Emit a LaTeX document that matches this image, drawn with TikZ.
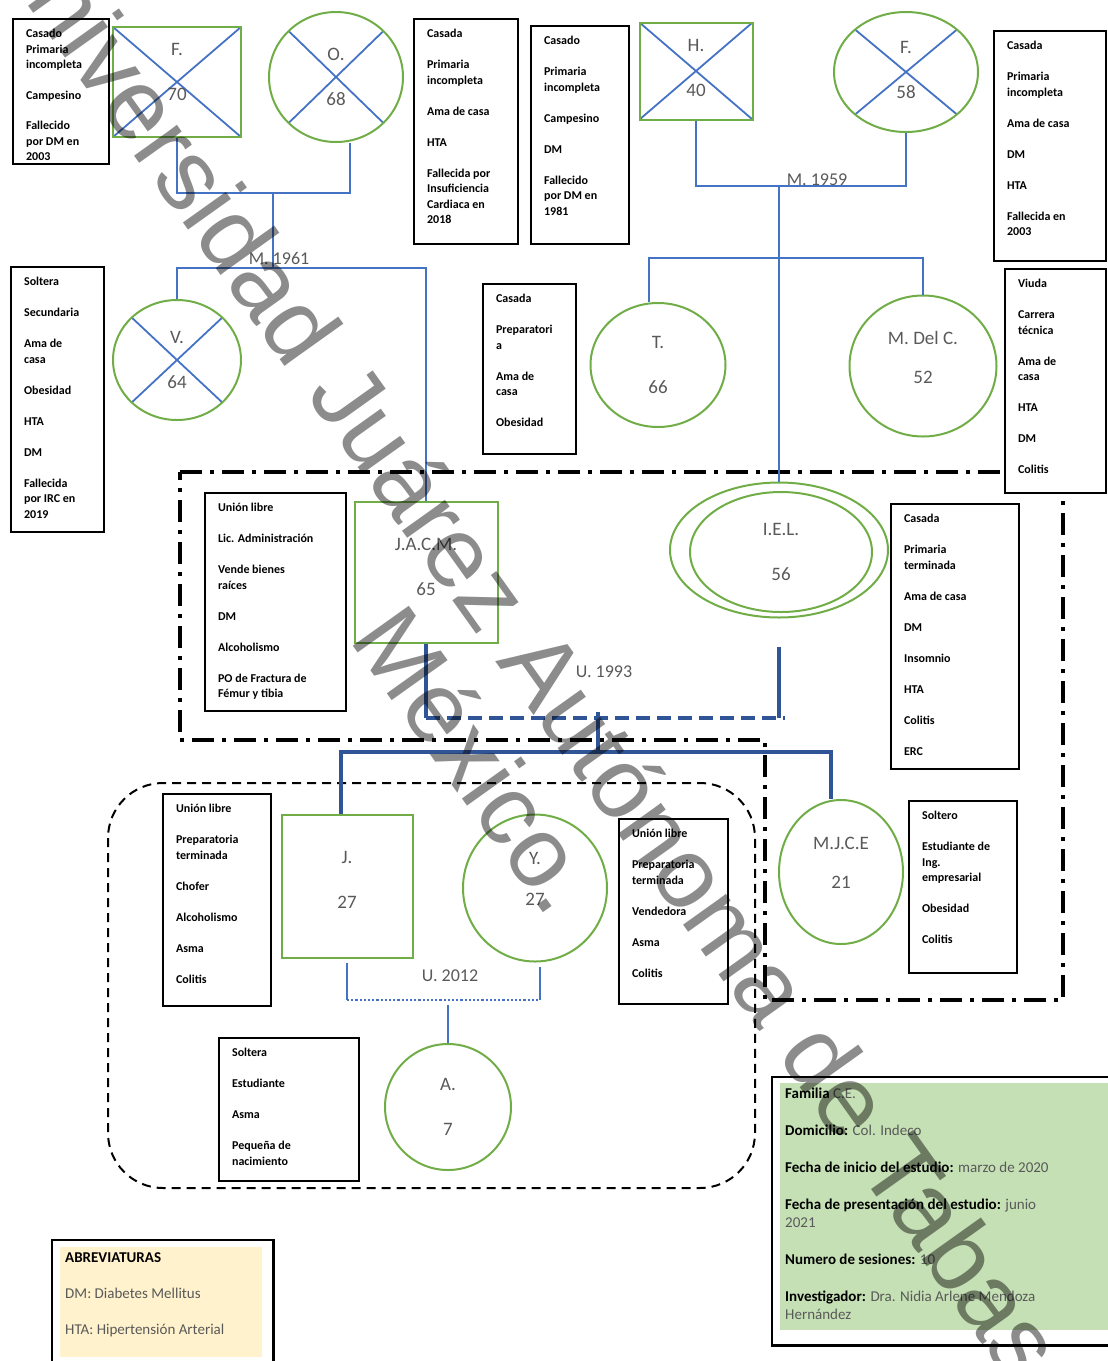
\documentclass[tikz,border=0pt]{standalone}
\usepackage{fontspec}
\setmainfont{Carlito}
\newfontfamily\marcafont{Liberation Sans}
\usepackage{tikz}
\usetikzlibrary{arrows,positioning,shapes.geometric}
\definecolor{gengreen}{HTML}{70AD47}
\definecolor{relblue}{HTML}{4472C4}
\definecolor{kidblue}{HTML}{2F5597}
\definecolor{labelgray}{HTML}{595959}
\definecolor{infogreen}{HTML}{C5E0B4}
\definecolor{abbryellow}{HTML}{FFF2CC}
\newcommand{\ficha}[3]{\parbox[c][#2][t]{#1}{\raggedright #3}}
% extra depth lifts a label inside its symbol
\newcommand{\arriba}[1]{\rule[-#1]{0pt}{0pt}}
\tikzset{
    %Define standard arrow tip
    >=stealth',
    %Define style for the genogram symbols
    man/.style={
           rectangle,
           draw=gengreen, line width=2pt,
           inner sep=0pt,
           font=\fontsize{19}{23}\selectfont,
           text=labelgray,
           align=center,
           },
    woman/.style={
           ellipse,
           draw=gengreen, line width=2pt,
           inner sep=0pt,
           font=\fontsize{19}{23}\selectfont,
           text=labelgray,
           align=center,
           },
    deceased/.style={
           path picture={
             \draw[relblue, line width=1.8pt]
               (path picture bounding box.north west) -- (path picture bounding box.south east)
               (path picture bounding box.south west) -- (path picture bounding box.north east);
           },
           },
    % Define style for the note boxes
    nota/.style={
           rectangle,
           draw=black, line width=2.2pt,
           fill=white,
           inner xsep=13pt, inner ysep=10pt,
           anchor=north west,
           font=\fontsize{12}{15.5}\selectfont\bfseries,
           },
    datos/.style={
           rectangle,
           inner sep=5pt,
           anchor=north west,
           font=\fontsize{15}{18}\selectfont,
           },
    marco/.style={draw=black, line width=2.4pt},
    % Define line styles
    rel/.style={draw=relblue, line width=2.2pt},
    kid/.style={draw=kidblue, line width=3.2pt},
    lbl/.style={font=\fontsize{18}{20}\selectfont, text=labelgray},
    familia/.style={draw=black, line width=3.5pt,
           dash pattern=on 22pt off 8pt on 4pt off 8pt},
    nucleo/.style={draw=black, line width=2pt, rounded corners=55pt,
           dash pattern=on 9pt off 6pt},
    marca/.style={rotate=-54.5, align=center, text=black, opacity=0.45,
           font=\marcafont\fontsize{100}{107}\selectfont},
}

\begin{document}
\begin{tikzpicture}[x=1pt,y=-1pt]
\useasboundingbox (0,0) rectangle (1108,1361);

 %family frames
\draw[familia] (180,472) -- (1063,472) -- (1063,1000) -- (765,1000)
    -- (765,740) -- (180,740) -- cycle;
\draw[nucleo] (108,783) rectangle (755,1188);

 %nodes: grandparents
\node[man, deceased, minimum width=128pt, minimum height=110pt] (pF) at (177,82) {F.\\[22pt]70\arriba{20pt}};
\node[woman, deceased, minimum width=134pt, minimum height=130pt] (pO) at (336,77) {O.\\[22pt]68};
\node[man, deceased, minimum width=113pt, minimum height=97pt] (pH) at (696,71) {H.\\[22pt]40\arriba{6pt}};
\node[woman, deceased, minimum width=144pt, minimum height=120pt] (pFb) at (906,72) {F.\\[22pt]58\arriba{4pt}};

 %nodes: parents and siblings
\node[woman, deceased, minimum width=128pt, minimum height=120pt] (pV) at (177,360) {V.\\[22pt]64};
\node[woman, minimum width=135pt, minimum height=124pt] (pT) at (658,365) {T.\\[22pt]66};
\node[woman, minimum width=147pt, minimum height=141pt] (pMD) at (923,366) {M. Del C.\\[16pt]52\arriba{18pt}};
\node[man, minimum width=143pt, minimum height=141pt] (pJA) at (426,572) {J.A.C.M.\\[22pt]65\arriba{10pt}};
\node[woman, minimum width=218pt, minimum height=135pt] (pIEL) at (779,550) {};
\node[woman, minimum width=182pt, minimum height=120pt] (pIELi) at (781,552) {I.E.L.\\[22pt]56};

 %nodes: children and grandchild
\node[man, minimum width=131pt, minimum height=143pt] (pJ) at (347,886) {J.\\[22pt]27\arriba{12pt}};
\node[woman, minimum width=144pt, minimum height=147pt] (pY) at (535,888) {Y.\\[18pt]27\arriba{18pt}};
\node[woman, minimum width=124pt, minimum height=144pt] (pMJ) at (841,872) {M.J.C.E\\[16pt]21\arriba{18pt}};
\node[woman, minimum width=126pt, minimum height=126pt] (pA) at (448,1107) {A.\\[22pt]7};

 %note boxes
\node[nota] (notaF) at (12,18) {\ficha{70pt}{125pt}{Casado\\Primaria\\incompleta\\[15pt]Campesino\\[15pt]Fallecido\\por DM en\\2003}};
\node[nota] (notaO) at (413,18) {\ficha{78pt}{205pt}{Casada\\[15.5pt]Primaria\\incompleta\\[15.5pt]Ama de casa\\[15.5pt]HTA\\[15.5pt]Fallecida por\\Insuficiencia\\Cardiaca en\\2018}};
\node[nota] (notaH) at (530,25) {\ficha{72pt}{198pt}{Casado\\[15.5pt]Primaria\\incompleta\\[15.5pt]Campesino\\[15.5pt]DM\\[15.5pt]Fallecido\\por DM en\\1981}};
\node[nota] (notaFb) at (993,30) {\ficha{86pt}{210pt}{Casada\\[15.5pt]Primaria\\incompleta\\[15.5pt]Ama de casa\\[15.5pt]DM\\[15.5pt]HTA\\[15.5pt]Fallecida en\\2003}};
\node[nota] (notaV) at (10,266) {\ficha{67pt}{245pt}{Soltera\\[15.5pt]Secundaria\\[15.5pt]Ama de\\casa\\[15.5pt]Obesidad\\[15.5pt]HTA\\[15.5pt]DM\\[15.5pt]Fallecida\\por IRC en\\2019}};
\node[nota] (notaT) at (482,283) {\ficha{67pt}{150pt}{Casada\\[15.5pt]Preparatori\\a\\[15.5pt]Ama de\\casa\\[15.5pt]Obesidad}};
\node[nota] (notaMD) at (1004,268) {\ficha{75pt}{204pt}{Viuda\\[15.5pt]Carrera\\técnica\\[15.5pt]Ama de\\casa\\[15.5pt]HTA\\[15.5pt]DM\\[15.5pt]Colitis}};
\node[nota] (notaJA) at (204,492) {\ficha{115pt}{198pt}{Unión libre\\[15.5pt]Lic. Administración\\[15.5pt]Vende bienes\\raíces\\[15.5pt]DM\\[15.5pt]Alcoholismo\\[15.5pt]PO de Fractura de\\Fémur y tibia}};
\node[nota] (notaIEL) at (890,503) {\ficha{102pt}{245pt}{Casada\\[15.5pt]Primaria\\terminada\\[15.5pt]Ama de casa\\[15.5pt]DM\\[15.5pt]Insomnio\\[15.5pt]HTA\\[15.5pt]Colitis\\[15.5pt]ERC}};
\node[nota] (notaJ) at (162,793) {\ficha{82pt}{192pt}{Unión libre\\[15.5pt]Preparatoria\\terminada\\[15.5pt]Chofer\\[15.5pt]Alcoholismo\\[15.5pt]Asma\\[15.5pt]Colitis}};
\node[nota] (notaY) at (618,818) {\ficha{83pt}{165pt}{Unión libre\\[15.5pt]Preparatoria\\terminada\\[15.5pt]Vendedora\\[15.5pt]Asma\\[15.5pt]Colitis}};
\node[nota] (notaMJ) at (908,800) {\ficha{82pt}{152pt}{Soltero\\[15.5pt]Estudiante de\\Ing.\\empresarial\\[15.5pt]Obesidad\\[15.5pt]Colitis}};
\node[nota] (notaA) at (218,1037) {\ficha{114pt}{123pt}{Soltera\\[15.5pt]Estudiante\\[15.5pt]Asma\\[15.5pt]Pequeña de\\nacimiento}};

 %junctions
\coordinate (c61) at (273,193);
\coordinate (s61) at (273,268);
\coordinate (c59) at (779,186);
\coordinate (s59) at (779,258);
\coordinate (c93) at (598,718);
\coordinate (s93) at (598,752);
\coordinate (u12a) at (347,1000);
\coordinate (u12b) at (540,1000);
\coordinate (c12) at (448,1000);

 %relations
\draw[rel] (pF.south) |- (c61) -| ([xshift=14pt]pO.south);
\draw[rel] (c61) -- (s61);
\draw[rel] (pV.north) |- (s61) -| (pJA.north);
\draw[rel] (pH.south) |- (c59) -| (pFb.south);
\draw[rel] (c59) -- (pIEL.north);
\draw[rel] ([xshift=-9pt]pT.north) |- (s59) -| (pMD.north);
\draw[kid] (pJA.south) -- (pJA.south |- c93);
\draw[kid] ([yshift=-28pt]pIEL.south) -- (pIEL.south |- c93);
\draw[kid, dash pattern=on 14pt off 7pt] (pJA.south |- c93) -- ([xshift=6pt]pIEL.south |- c93);
\draw[kid] ([yshift=6pt]c93) -- (s93);
\draw[kid] ([xshift=-6pt]pJ.north) |- (s93) -| ([xshift=-10pt]pMJ.north);
\draw[rel] ([yshift=-4pt]pJ.south) -- (u12a);
\draw[rel] ([xshift=5pt,yshift=-4pt]pY.south) -- (u12b);
\draw[rel, dotted] (u12a) -- (u12b);
\draw[rel] ([yshift=-5pt]c12) -- (pA.north);

 %union labels
\node[lbl] (lm61) at (279,258) {M. 1961};
\node[lbl] (lm59) at (817,180) {M. 1959};
\node[lbl] (lu93) at (604,672) {U. 1993};
\node[lbl] (lu12) at (450,976) {U. 2012};

 %family data
\node[datos, fill=infogreen] (pInfo) at (780,1083) {\ficha{318pt}{237pt}{%
  \textbf{Familia} {\color{labelgray}C.E.}\\[19pt]
  \textbf{Domicilio:} {\color{labelgray}Col. Indeco}\\[19pt]
  \textbf{Fecha de inicio del estudio:} {\color{labelgray}marzo de 2020}\\[19pt]
  \textbf{Fecha de presentación del estudio:} {\color{labelgray}junio}\\
  {\color{labelgray}2021}\\[19pt]
  \textbf{Numero de sesiones:} {\color{labelgray}10}\\[19pt]
  \textbf{Investigador:} {\color{labelgray}Dra. Nidia Arlene Mendoza}\\
  {\color{labelgray}Hernández}}};
\draw[marco] ([shift={(-8pt,6pt)}]pInfo.north west) rectangle ([shift={(10pt,-15pt)}]pInfo.south east);

\node[datos, fill=abbryellow] (pAbr) at (60,1247) {\ficha{192pt}{100pt}{%
  \textbf{ABREVIATURAS}\\[18pt]
  {\color{labelgray}DM: Diabetes Mellitus}\\[18pt]
  {\color{labelgray}HTA: Hipertensión Arterial}}};
\draw[marco] ([shift={(-8pt,7pt)}]pAbr.north west) rectangle ([shift={(11pt,-10pt)}]pAbr.south east);

 %watermark
\begin{scope}
\clip (0,0) rectangle (1108,1361);
\node[marca] (wm) at (522,728) {Universidad Juárez Autónoma de Tabasco.\\México.};
\end{scope}

\end{tikzpicture}
\end{document}
